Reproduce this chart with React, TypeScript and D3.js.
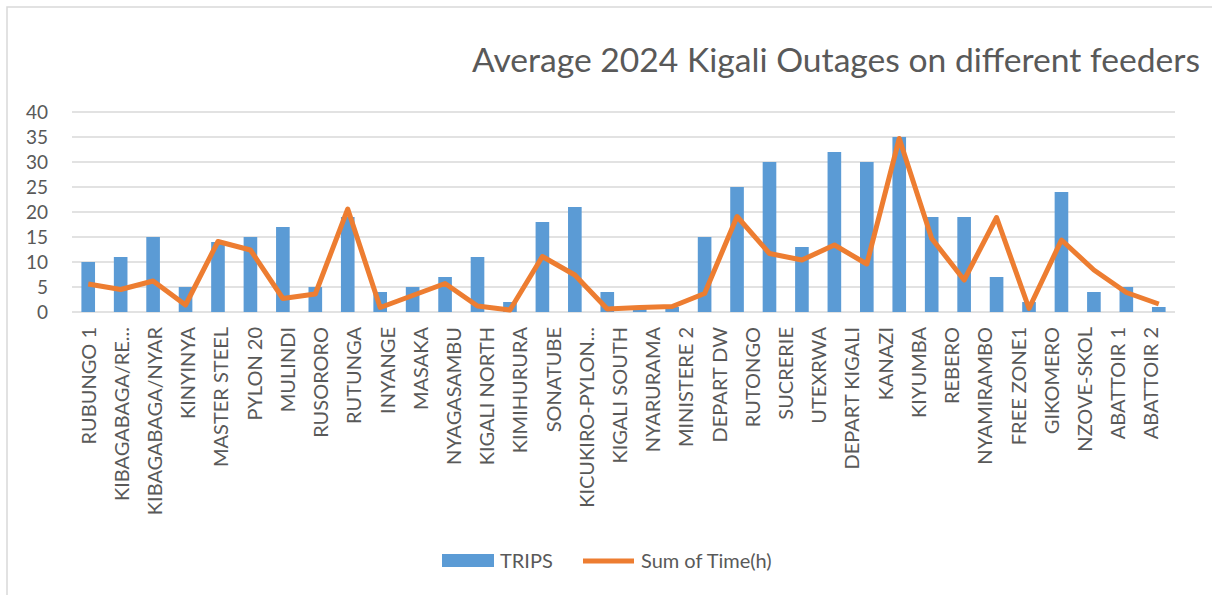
import React from 'react';
import * as d3 from 'd3';

// feeder names as printed on the axis
const feeders = [
  'RUBUNGO 1', 'KIBAGABAGA/RE...', 'KIBAGABAGA/NYAR', 'KINYINYA', 'MASTER STEEL',
  'PYLON 20', 'MULINDI', 'RUSORORO', 'RUTUNGA', 'INYANGE', 'MASAKA', 'NYAGASAMBU',
  'KIGALI NORTH', 'KIMIHURURA', 'SONATUBE', 'KICUKIRO-PYLON...', 'KIGALI SOUTH',
  'NYARURAMA', 'MINISTERE 2', 'DEPART DW', 'RUTONGO', 'SUCRERIE', 'UTEXRWA',
  'DEPART KIGALI', 'KANAZI', 'KIYUMBA', 'REBERO', 'NYAMIRAMBO', 'FREE ZONE1',
  'GIKOMERO', 'NZOVE-SKOL', 'ABATTOIR 1', 'ABATTOIR 2',
];

// one value per plotted slot (the chart has one slot more than labels)
const trips = [10, 11, 15, 5, 14, 15, 17, 5, 19, 4, 5, 7, 11, 2, 18, 21, 4, 1, 1, 15, 25, 30, 13, 32, 30, 35, 19, 19, 7, 2, 24, 4, 5, 1];
const hours = [5.6, 4.5, 6.2, 1.4, 14.1, 12.4, 2.7, 3.6, 20.6, 0.9, 3.3, 5.7, 1.2, 0.4, 11.1, 7.4, 0.6, 0.9, 1.1, 3.7, 19.1, 11.7, 10.4, 13.4, 9.6, 34.7, 14.7, 6.4, 18.9, 0.7, 14.4, 8.4, 3.9, 1.6];

const yTicks = [0, 5, 10, 15, 20, 25, 30, 35, 40];

const title = 'Average 2024 Kigali Outages on different feeders';
const seriesNames = ['TRIPS', 'Sum of Time(h)'];

const W = 1212;
const H = 595;
const margin = { top: 112, right: 37, bottom: 283, left: 72 };
const BLUE = '#5B9BD5';
const ORANGE = '#ED7D31';
const GRID = '#d9d9d9';
const TEXT = '#595959';
const FONT = 'Lato, "Noto Sans", sans-serif';

export default function App() {
  const slots = d3.range(trips.length);
  const x = d3.scaleBand<number>()
    .domain(slots)
    .range([margin.left, W - margin.right])
    .paddingInner(0.58)
    .paddingOuter(0.29);
  const y = d3.scaleLinear().domain([0, 40]).range([H - margin.bottom, margin.top]);
  // the axis labels are spread a little narrower than the bars
  const labelX = d3.scaleBand<string>().domain(feeders).range([margin.left, W - margin.right - 7]);

  const cx = (i: number) => (x(i) ?? 0) + x.bandwidth() / 2;
  const line = d3.line<number>().x((_, i) => cx(i)).y(d => y(d));

  return (
    <svg width={W} height={H} style={{ position: 'absolute', left: 0, top: 0, background: '#fff' }}>
      <rect x={7} y={7} width={W} height={H} fill="#fff" stroke={GRID} strokeWidth={1.5} />
      <text x={1200} y={72} textAnchor="end" fontFamily={FONT} fontSize={32} fill={TEXT}
        textLength={728} lengthAdjust="spacingAndGlyphs">
        {title}
      </text>

      {yTicks.map(t => (
        <g key={t}>
          <line x1={margin.left} x2={W - margin.right} y1={y(t)} y2={y(t)} stroke={GRID} strokeWidth={1.5} />
          <text x={48} y={y(t)} dy="0.35em" textAnchor="end" fontFamily={FONT} fontSize={19} fill={TEXT}>{t}</text>
        </g>
      ))}

      {trips.map((v, i) => (
        <rect key={i} x={x(i)} y={y(v)} width={x.bandwidth()} height={y(0) - y(v)} fill={BLUE} />
      ))}

      <path d={line(hours) ?? ''} fill="none" stroke={ORANGE} strokeWidth={5} strokeLinejoin="round" />

      {feeders.map(f => {
        const lx = (labelX(f) ?? 0) + labelX.bandwidth() / 2;
        return (
          <text key={f} transform={`translate(${lx},${y(0) + 15}) rotate(-90)`} dy="0.35em" textAnchor="end"
            fontFamily={FONT} fontSize={20} fill={TEXT}>{f}</text>
        );
      })}

      <g fontFamily={FONT} fontSize={20} fill={TEXT}>
        <rect x={442} y={554} width={52} height={13} fill={BLUE} />
        <text x={500} y={568}>{seriesNames[0]}</text>
        <line x1={583} x2={634} y1={561} y2={561} stroke={ORANGE} strokeWidth={5} />
        <text x={641} y={568}>{seriesNames[1]}</text>
      </g>
    </svg>
  );
}
